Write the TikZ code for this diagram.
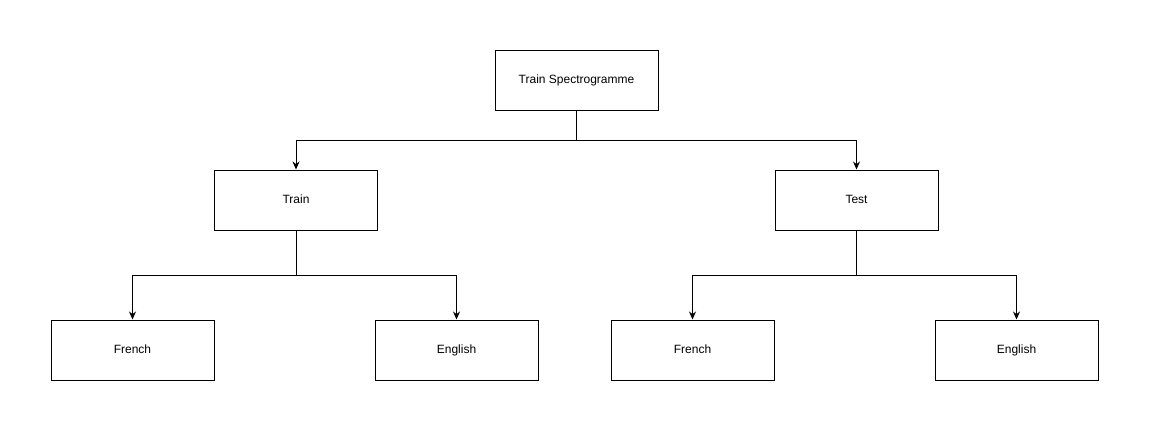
\documentclass[tikz,border=0pt]{standalone}
\usepackage{fontspec}
\setmainfont{Liberation Sans}
\usetikzlibrary{arrows.meta}
\begin{document}
\begin{tikzpicture}[x=1pt,y=-1pt,
  box/.style={draw,line width=1pt,minimum width=163pt,minimum height=60pt,inner sep=0pt,text height=8.6pt,text depth=2.4pt,font=\fontsize{12}{14}\selectfont},
  conn/.style={line width=1pt,-{Stealth[length=8pt,width=7pt]}}]
\useasboundingbox (0,0) rectangle (1149,431);
\node[box] (root) at (576.5,80) {Train Spectrogramme};
\node[box] (train) at (296,200) {Train};
\node[box] (test) at (856.5,200) {Test};
\node[box] (fr1) at (132.5,350) {French};
\node[box] (en1) at (456.5,350) {English};
\node[box] (fr2) at (692.5,350) {French};
\node[box] (en2) at (1016.5,350) {English};
\coordinate (j0) at (576.5,140);
\coordinate (j1) at (296,275);
\coordinate (j2) at (856.5,275);
\draw[line width=1pt] (root.south) -- (j0);
\draw[conn] (j0) -| (train.north);
\draw[conn] (j0) -| (test.north);
\draw[line width=1pt] (train.south) -- (j1);
\draw[conn] (j1) -| (fr1.north);
\draw[conn] (j1) -| (en1.north);
\draw[line width=1pt] (test.south) -- (j2);
\draw[conn] (j2) -| (fr2.north);
\draw[conn] (j2) -| (en2.north);
\end{tikzpicture}
\end{document}
